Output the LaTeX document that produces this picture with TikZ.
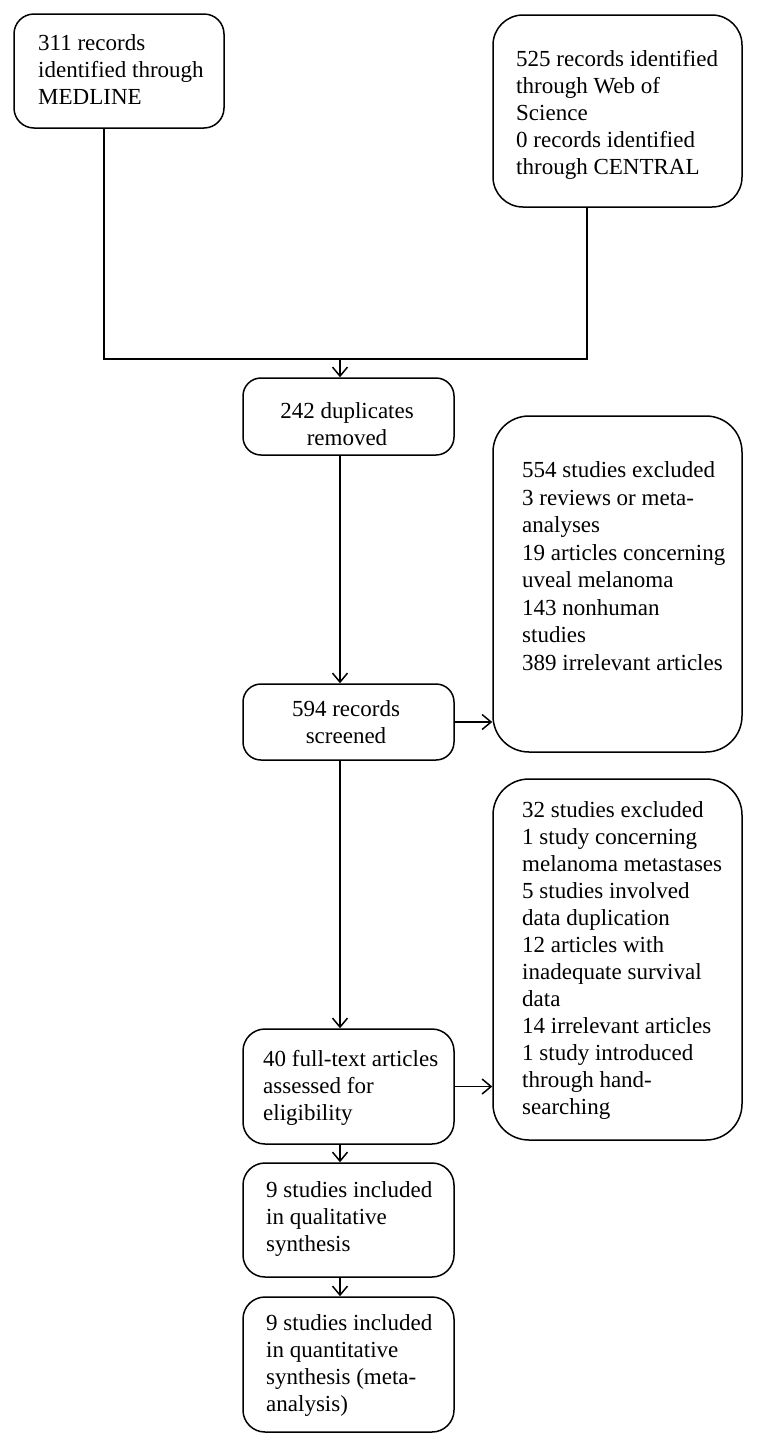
\documentclass[tikz,border=0pt]{standalone}
\usepackage{fontspec}
\setmainfont{Liberation Serif}
\usetikzlibrary{arrows.meta,calc}
\begin{document}
\begin{tikzpicture}[x=1pt,y=-1pt,
  box/.style={draw=black, line width=1.5pt, inner sep=0pt},
  txt/.style={inner sep=0pt, align=left, font=\fontsize{23}{27}\selectfont},
  conn/.style={line width=1.5pt},
  arr/.style={line width=1.5pt, -{Straight Barb[length=9pt,width=15pt,line width=1.5pt]}}]
\useasboundingbox (0,0) rectangle (756,1446);
% boxes
\node[box, rounded corners=20pt, minimum width=210pt, minimum height=114pt] (A) at (119,71) {};
\node[box, rounded corners=30pt, minimum width=249pt, minimum height=192pt] (B) at (617.5,111) {};
\node[box, rounded corners=18pt, minimum width=211pt, minimum height=77pt] (C) at (348.5,416.5) {};
\node[box, rounded corners=36pt, minimum width=249pt, minimum height=336pt] (D) at (617.5,584) {};
\node[box, rounded corners=18pt, minimum width=211pt, minimum height=76pt] (S) at (348.5,722) {};
\node[box, rounded corners=36pt, minimum width=249pt, minimum height=361pt] (E) at (617.5,959.5) {};
\node[box, rounded corners=22pt, minimum width=211pt, minimum height=115pt] (F) at (348.5,1086.5) {};
\node[box, rounded corners=22pt, minimum width=211pt, minimum height=114pt] (Q1) at (348.5,1220) {};
\node[box, rounded corners=22pt, minimum width=211pt, minimum height=135pt] (Q2) at (348.5,1364.5) {};
% texts
\node[txt, anchor=west] (tA) at (38,70) {311 records\\identified through\\MEDLINE};
\node[txt, anchor=west] (tB) at (516,115) {525 records identified\\through Web of\\Science\\0 records identified\\through CENTRAL};
\node[txt, align=center] (tC) at (347,424) {242 duplicates\\removed};
\node[txt, anchor=west, font=\fontsize{23}{27.5}\selectfont] (tD) at (522,566) {554 studies excluded\\3 reviews or meta-\\analyses\\19 articles concerning\\uveal melanoma\\143 nonhuman\\studies\\389 irrelevant articles};
\node[txt, align=center] (tS) at (346,722) {594 records\\screened};
\node[txt, anchor=west] (tE) at (522,960) {32 studies excluded\\1 study concerning\\melanoma metastases\\5 studies involved\\data duplication\\12 articles with\\inadequate survival\\data\\14 irrelevant articles\\1 study introduced\\through hand-\\searching};
\node[txt, anchor=west] (tF) at (263,1088) {40 full-text articles\\assessed for\\eligibility};
\node[txt, anchor=west] (tQ1) at (266,1219) {9 studies included\\in qualitative\\synthesis};
\node[txt, anchor=west] (tQ2) at (266,1365) {9 studies included\\in quantitative\\synthesis (meta-\\analysis)};
% connectors
\coordinate (M) at (340,359);
\draw[conn] ([xshift=-15pt]A.south) |- (M) -| ([xshift=-30.5pt]B.south);
\draw[arr] (M) -- (M |- C.north);
\draw[arr] (M |- C.south) -- (M |- S.north);
\draw[arr] (M |- S.south) -- (M |- F.north);
\draw[arr] (M |- F.south) -- (M |- Q1.north);
\draw[arr] (M |- Q1.south) -- (M |- Q2.north);
\draw[arr] (S.east) -- (S.east -| D.west);
\draw[arr] (F.east) -- (F.east -| E.west);
\end{tikzpicture}
\end{document}
